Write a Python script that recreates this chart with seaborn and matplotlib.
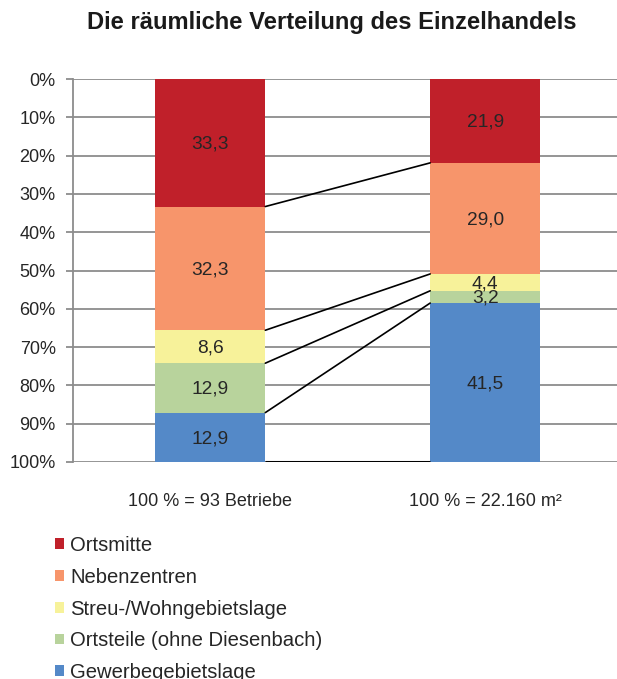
import matplotlib
matplotlib.use("Agg")
import matplotlib.pyplot as plt
from matplotlib.patches import Patch
import numpy as np
import pandas as pd
import seaborn as sns

# Shares (%) per location type, top to bottom of each column
categories = ["100 % = 93 Betriebe", "100 % = 22.160 m²"]
locations = ["Ortsmitte", "Nebenzentren", "Streu-/Wohngebietslage",
             "Ortsteile (ohne Diesenbach)", "Gewerbegebietslage"]
betriebe = [33.3, 32.3, 8.6, 12.9, 12.9]
flaeche = [21.9, 29.0, 4.4, 3.2, 41.5]
colors = ["#C0202A", "#F7956B", "#F7F29A", "#B8D39C", "#5489C8"]
y_ticks = list(range(0, 101, 10))

sns.set_theme(style="white")
plt.rcParams["font.family"] = ["Liberation Sans", "DejaVu Sans"]

fig = plt.figure(figsize=(6.17, 6.79), dpi=100)
ax = fig.add_axes([73 / 617, 1 - 462 / 679, 1 - 73 / 617, (462 - 79) / 679])

values = np.array([betriebe, flaeche])          # shape (2 columns, 5 segments)
ends = np.cumsum(values, axis=1)                 # cumulative lower edge of each segment
starts = ends - values
bar_w = 0.40

# Stacked bars: draw cumulative bars from the bottom segment upward
for i in reversed(range(len(locations))):
    df = pd.DataFrame({"cat": categories, "end": ends[:, i]})
    sns.barplot(data=df, x="cat", y="end", color=colors[i], width=bar_w,
                saturation=1, ax=ax, zorder=2, linewidth=0)

# Segment value labels
for c in range(2):
    for i in range(len(locations)):
        mid = (starts[c, i] + ends[c, i]) / 2
        txt = f"{values[c, i]:.1f}".replace(".", ",")
        ax.text(c, mid + 0.4, txt, ha="center", va="center", fontsize=13.8,
                color="#262626", zorder=3)

# Connector lines between segment boundaries
x_left = 0 + bar_w / 2
x_right = 1 - bar_w / 2
for i in range(len(locations) - 1):
    ax.plot([x_left, x_right], [ends[0, i], ends[1, i]], color="black",
            lw=1.2, zorder=3)
ax.plot([x_left, x_right], [100, 100], color="black", lw=2.2, zorder=3,
        solid_capstyle="butt")

ax.set_ylim(100, 0)
ax.set_xlim(-0.5, 1.48)
ax.set_yticks(y_ticks)
ax.set_yticklabels([f"{t}%" for t in y_ticks], fontsize=13, color="#262626")
ax.yaxis.grid(True, color="#8C8C8C", lw=1.3, zorder=0)
ax.set_axisbelow(True)
ax.tick_params(axis="y", length=5, width=1.3, color="#8C8C8C", pad=7.5,
               left=True)
ax.tick_params(axis="x", length=0, pad=22, labelsize=13, labelcolor="#262626")
ax.set_xlabel("")
ax.set_ylabel("")
for side in ["top", "right", "bottom"]:
    ax.spines[side].set_visible(False)
ax.spines["left"].set_color("#8C8C8C")
ax.spines["left"].set_linewidth(1.3)

fig.text(332 / 617, 1 - 23 / 679, "Die räumliche Verteilung des Einzelhandels",
         ha="center", va="center", fontsize=17.1, fontweight="bold",
         color="#1a1a1a")

handles = [Patch(facecolor=c, edgecolor="none") for c in colors]
fig.legend(handles, locations, loc="upper left",
           bbox_to_anchor=(55 / 617, 1 - 536 / 679), frameon=False,
           fontsize=14.6, handlelength=0.44, handleheight=0.44,
           handletextpad=0.3, labelspacing=0.63, borderpad=0,
           borderaxespad=0, labelcolor="#262626")

fig.savefig("out.png", dpi=100)
